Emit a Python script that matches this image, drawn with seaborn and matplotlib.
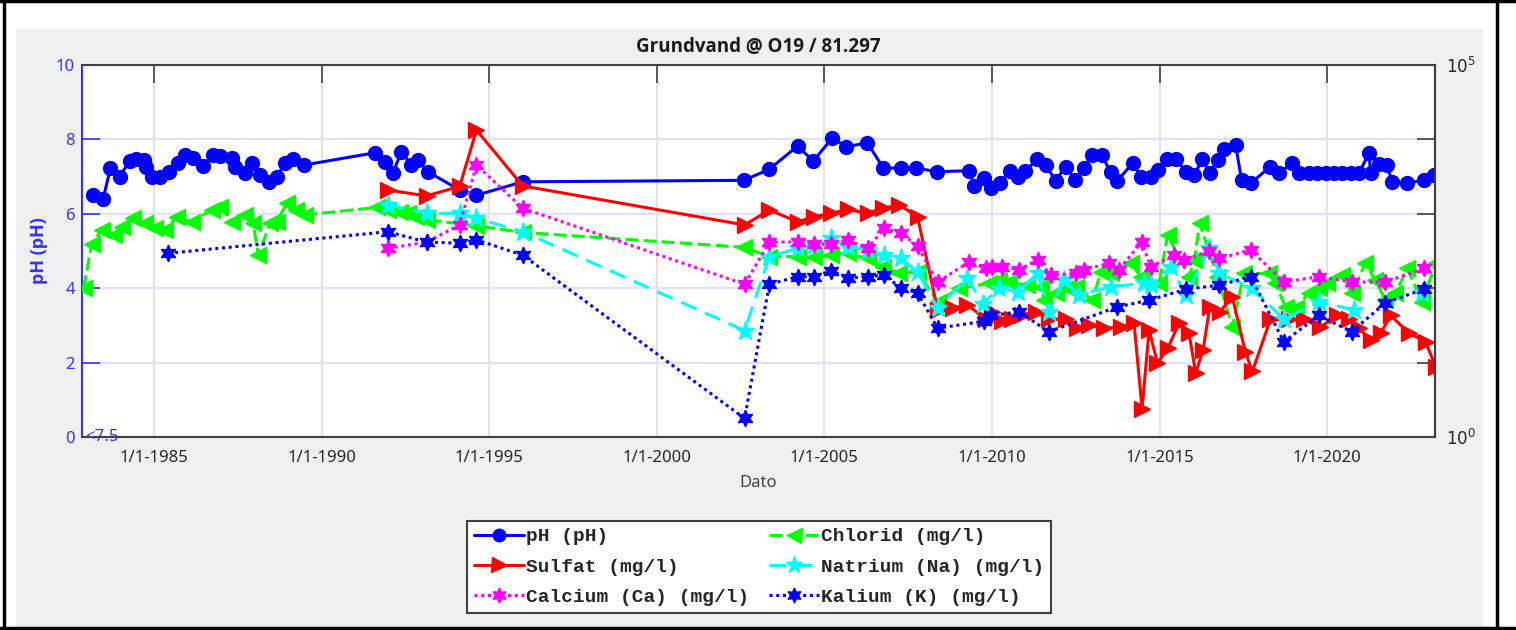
import pandas as pd
import seaborn as sns
import matplotlib.pyplot as plt
from matplotlib.patches import Rectangle
from matplotlib.lines import Line2D
from matplotlib.font_manager import FontProperties

# --- data (decimal year, value) ---
ph_year = [1983.17, 1983.48, 1983.70, 1983.97, 1984.28, 1984.46, 1984.70, 1984.76, 1984.93, 1985.18,
           1985.45, 1985.72, 1985.92, 1986.16, 1986.45, 1986.76, 1986.97, 1987.32, 1987.41, 1987.71,
           1987.91, 1988.16, 1988.43, 1988.67, 1988.90, 1989.14, 1989.47, 1991.59, 1991.89, 1992.13,
           1992.38, 1992.68, 1992.87, 1993.17, 1994.12, 1994.62, 1996.00, 2002.60, 2003.36, 2004.20,
           2004.67, 2005.24, 2005.66, 2006.28, 2006.76, 2007.30, 2007.74, 2008.37, 2009.32, 2009.47,
           2009.77, 2009.97, 2010.24, 2010.53, 2010.78, 2011.00, 2011.35, 2011.60, 2011.90, 2012.20,
           2012.48, 2012.75, 2012.98, 2013.27, 2013.54, 2013.74, 2014.21, 2014.44, 2014.74, 2014.96,
           2015.23, 2015.49, 2015.79, 2016.04, 2016.27, 2016.50, 2016.75, 2016.92, 2017.27, 2017.45,
           2017.72, 2018.31, 2018.56, 2018.96, 2019.16, 2019.46, 2019.71, 2019.96, 2020.21, 2020.45,
           2020.70, 2020.95, 2021.25, 2021.30, 2021.56, 2021.79, 2021.94, 2022.39, 2022.89, 2023.19]
ph_val = [6.50, 6.40, 7.23, 7.00, 7.43, 7.47, 7.45, 7.27, 7.00, 6.99,
          7.13, 7.36, 7.58, 7.50, 7.28, 7.58, 7.55, 7.50, 7.27, 7.10,
          7.36, 7.04, 6.86, 7.00, 7.36, 7.47, 7.31, 7.64, 7.40, 7.10,
          7.67, 7.31, 7.45, 7.13, 6.64, 6.50, 6.86, 6.90, 7.20, 7.82,
          7.42, 8.04, 7.80, 7.91, 7.23, 7.23, 7.23, 7.13, 7.16, 6.75,
          6.96, 6.69, 6.83, 7.16, 7.00, 7.16, 7.47, 7.31, 6.89, 7.27,
          6.91, 7.23, 7.58, 7.58, 7.13, 6.89, 7.37, 7.00, 7.00, 7.18,
          7.47, 7.47, 7.13, 7.04, 7.46, 7.11, 7.45, 7.73, 7.85, 6.91,
          6.82, 7.27, 7.09, 7.37, 7.09, 7.09, 7.09, 7.09, 7.09, 7.09,
          7.09, 7.09, 7.63, 7.09, 7.35, 7.31, 6.86, 6.82, 6.91, 7.04]

cl_year = [1982.90, 1983.14, 1983.44, 1983.79, 1984.04, 1984.38, 1984.73, 1985.03, 1985.33, 1985.68,
           1986.12, 1986.72, 1986.97, 1987.32, 1987.71, 1987.96, 1988.11, 1988.46, 1988.66, 1988.96,
           1989.25, 1989.50, 1991.64, 1991.97, 1992.33, 1992.58, 1992.83, 1993.13, 1994.62, 1996.00,
           2002.60, 2003.36, 2004.20, 2004.70, 2005.20, 2005.70, 2006.29, 2006.74, 2007.24, 2007.78,
           2008.38, 2009.03, 2009.92, 2010.22, 2010.52, 2011.06, 2011.46, 2011.56, 2011.90, 2012.25,
           2012.50, 2013.00, 2013.25, 2013.54, 2014.14, 2014.44, 2014.99, 2015.24, 2015.88, 2016.04,
           2016.20, 2016.73, 2017.17, 2017.52, 2018.26, 2018.46, 2018.76, 2019.06, 2019.45, 2019.75,
           2020.00, 2020.45, 2020.74, 2021.14, 2021.44, 2021.74, 2022.04, 2022.39, 2022.84, 2023.24]
cl_val = [100, 398, 603, 520, 668, 871, 750, 646, 603, 912,
          784, 1122, 1245, 784, 966, 741, 278, 741, 784, 1380,
          1122, 966, 1216, 1122, 1072, 1012, 912, 830, 690, 562,
          355, 266, 266, 260, 278, 295, 251, 195, 158, 166,
          66, 100, 116, 129, 121, 110, 105, 69, 85, 100,
          105, 69, 166, 158, 216, 143, 116, 519, 143, 240,
          741, 143, 30, 158, 158, 116, 56, 54, 85, 100,
          116, 150, 85, 216, 129, 69, 85, 184, 66, 216]

so4_year = [1991.98, 1993.13, 1994.12, 1994.62, 1996.00, 2002.62, 2003.36, 2004.20, 2004.70, 2005.20,
            2005.70, 2006.29, 2006.74, 2007.24, 2007.78, 2008.38, 2008.83, 2009.27, 2009.82, 2010.00,
            2010.31, 2010.61, 2010.91, 2011.30, 2011.70, 2012.20, 2012.55, 2012.90, 2013.35, 2013.84,
            2014.24, 2014.48, 2014.69, 2014.94, 2015.24, 2015.59, 2015.88, 2016.08, 2016.30, 2016.50,
            2016.80, 2017.17, 2017.56, 2017.77, 2018.31, 2018.86, 2019.31, 2019.80, 2020.30, 2020.65,
            2020.95, 2021.30, 2021.60, 2021.90, 2022.44, 2022.94, 2023.24]
so4_val = [2089, 1738, 2340, 13335, 2371, 708, 1122, 784, 912, 1012,
           1148, 1012, 1189, 1318, 912, 51, 54, 60, 38, 48,
           36, 38, 44, 48, 39, 38, 29, 32, 29, 30,
           34, 2.4, 27.5, 9.8, 15.5, 34, 25, 7.2, 14.8, 56,
           48, 77, 14, 7.6, 38, 38, 38, 30, 43, 38,
           29, 20, 25, 43, 25, 19, 8.8]

na_year = [1991.98, 1993.13, 1994.12, 1994.62, 1996.00, 2002.62, 2003.36, 2004.20, 2004.70, 2005.20,
           2005.70, 2006.29, 2006.79, 2007.29, 2007.78, 2008.38, 2009.27, 2009.72, 2010.22, 2010.77,
           2011.36, 2011.70, 2012.15, 2012.60, 2013.54, 2014.54, 2014.74, 2015.34, 2015.79, 2016.49,
           2016.79, 2017.77, 2018.71, 2019.75, 2020.80]
na_val = [1318, 1012, 1012, 871, 575, 27, 266, 343, 380, 468,
          363, 330, 278, 251, 166, 54, 136, 62, 100, 90,
          158, 48, 129, 81, 105, 116, 110, 195, 81, 343,
          158, 100, 38, 66, 51]
na_late_year = [2022.84]
na_late_val = [85]

ca_year = [1991.98, 1993.13, 1994.12, 1994.62, 1996.00, 2002.62, 2003.36, 2004.20, 2004.70, 2005.20,
           2005.70, 2006.29, 2006.79, 2007.29, 2007.78, 2008.38, 2009.32, 2009.82, 2010.00, 2010.31,
           2010.81, 2011.36, 2011.76, 2012.50, 2012.75, 2013.50, 2013.79, 2014.47, 2014.74, 2015.43,
           2015.73, 2016.49, 2016.79, 2017.72, 2018.71, 2019.75, 2020.74, 2021.74, 2022.89]
ca_val = [343, 417, 708, 4519, 1189, 113, 417, 417, 389, 389,
          447, 343, 638, 549, 367, 121, 226, 184, 195, 195,
          178, 240, 150, 158, 178, 216, 178, 417, 195, 278,
          240, 316, 251, 327, 121, 143, 121, 121, 184]

k_year = [1985.43, 1991.98, 1993.13, 1994.12, 1994.62, 1996.00, 2002.62, 2003.36, 2004.20, 2004.70,
          2005.20, 2005.70, 2006.29, 2006.79, 2007.29, 2007.78, 2008.38, 2009.77, 2009.97, 2010.81,
          2011.70, 2013.74, 2014.69, 2015.79, 2016.79, 2017.72, 2018.71, 2019.75, 2020.74, 2021.74,
          2022.89]
k_val = [295, 575, 417, 403, 447, 278, 1.78, 113, 143, 143,
         172, 136, 143, 150, 100, 87, 29, 36, 43, 48,
         26, 56, 69, 97, 110, 143, 19, 43, 26, 64,
         97]

tick_years = [1985, 1990, 1995, 2000, 2005, 2010, 2015, 2020]
tick_labels = [f"1/1-{y}" for y in tick_years]

BLUE_AX = '#3333ff'
DARK = '#404040'
HEX = (6, 1, 0)  # six point star, like matlab's hexagram


def draw(ax, years, vals, color, ls, marker, ms, label=None):
    df = pd.DataFrame({'year': years, 'val': vals})
    sns.lineplot(data=df, x='year', y='val', ax=ax, color=color, linestyle=ls, linewidth=2.2,
                 marker=marker, markersize=ms, markeredgecolor=color, markerfacecolor=color,
                 markeredgewidth=1, sort=False, estimator=None, legend=False, label=label)


sns.set_style('white')
plt.rcParams['font.family'] = ['Noto Sans', 'DejaVu Sans']
BOLD_FAM = ['Open Sans', 'DejaVu Sans']

fig = plt.figure(figsize=(15.16, 6.3), dpi=100)
W, H = 1516, 630

# grey matlab panel and the outer black frame
fig.add_artist(Rectangle((16 / W, 0), (1483 - 16) / W, (630 - 29) / H, transform=fig.transFigure,
                         facecolor='#f0f0f0', edgecolor='none', zorder=-2))
for xs, ys in [([4 / W, 4 / W], [0, 1]), ([1497 / W, 1497 / W], [0, 1]),
               ([0, 1], [1 - 1 / H, 1 - 1 / H]), ([0, 1], [1 - 628 / H, 1 - 628 / H])]:
    fig.add_artist(Line2D(xs, ys, transform=fig.transFigure, color='black', lw=2.5))

ax = fig.add_axes([82 / W, 1 - 437 / H, (1435 - 82) / W, (437 - 65) / H])
ax.set_facecolor('white')
ax2 = ax.twinx()
ax2.set_yscale('log')
ax2.set_ylim(1, 1e5)

# left axis: pH
draw(ax, ph_year, ph_val, '#0000ff', '-', 'o', 10, label='pH (pH)')

# right axis: concentrations
draw(ax2, cl_year, cl_val, '#00ff00', (0, (4.3, 1.6)), '<', 12, label='Chlorid (mg/l)')
draw(ax2, so4_year, so4_val, '#ff0000', '-', '>', 12, label='Sulfat (mg/l)')
draw(ax2, na_year, na_val, '#00ffff', (0, (5.5, 3)), '*', 14, label='Natrium (Na) (mg/l)')
draw(ax2, na_late_year, na_late_val, '#00ffff', (0, (5.5, 3)), '*', 14)
draw(ax2, ca_year, ca_val, '#ff00ff', (0, (1, 1.2)), HEX, 12, label='Calcium (Ca) (mg/l)')
draw(ax2, k_year, k_val, '#0000ff', (0, (1, 1.2)), HEX, 12, label='Kalium (K) (mg/l)')

ax.set_xlim(1982.85, 2023.22)
ax.set_ylim(0, 10)
ax.set_xticks(tick_years)
ax.set_xticklabels(tick_labels)
ax.set_yticks([0, 2, 4, 6, 8, 10])
ax.set_yticklabels(['0', '2', '4', '6', '8', '10'])
ax.tick_params(axis='x', direction='in', length=13, width=1.2, top=True, color=DARK,
               labelcolor='#262626', labelsize=12, pad=9)
ax.tick_params(axis='y', direction='in', length=13, width=1.2, color=BLUE_AX,
               labelcolor=BLUE_AX, labelsize=12, pad=5)
ax.grid(axis='x', color='#dedede', lw=1.2)
ax.grid(axis='y', color='#e0e0ff', lw=1.6)
ax.set_axisbelow(True)

ax2.set_yticks([1, 10, 100, 1e3, 1e4, 1e5])
ax2.set_yticklabels(['$10^0$', '', '', '', '', '$10^5$'])
ax2.minorticks_off()
ax2.tick_params(axis='y', direction='in', length=13, width=1.2, color=DARK,
                labelcolor='#262626', labelsize=12, pad=8)
ax2.set_ylabel('')
ax2.set_xlabel('')

for s in ['top', 'bottom', 'right']:
    ax.spines[s].set_color(DARK)
    ax.spines[s].set_linewidth(1.5)
ax.spines['left'].set_color(BLUE_AX)
ax.spines['left'].set_linewidth(1.5)
for s in ['top', 'bottom', 'left']:
    ax2.spines[s].set_visible(False)
ax2.spines['right'].set_color(DARK)
ax2.spines['right'].set_linewidth(1.5)

ax.set_title('Grundvand @ O19 / 81.297', fontsize=13.5, fontweight='bold', family=BOLD_FAM,
             color='#1a1a1a', pad=9)
ax.set_xlabel('Dato', fontsize=12, color='#404040', labelpad=7)
ax.set_ylabel('pH (pH)', fontsize=13, fontweight='bold', family=BOLD_FAM, color=BLUE_AX,
              labelpad=6)
ax.text(0.002, 0.0, '<7.5', transform=ax.transAxes, ha='left', va='center',
        fontsize=12, color=BLUE_AX)

# legend in matlab column order
h1, l1 = ax.get_legend_handles_labels()
h2, l2 = ax2.get_legend_handles_labels()
hmap = dict(zip(l1 + l2, h1 + h2))
order = ['pH (pH)', 'Sulfat (mg/l)', 'Calcium (Ca) (mg/l)',
         'Chlorid (mg/l)', 'Natrium (Na) (mg/l)', 'Kalium (K) (mg/l)']
leg = fig.legend([hmap[k] for k in order], order, loc='center',
                 bbox_to_anchor=(759 / W, 1 - 567 / H), ncol=2,
                 prop=FontProperties(family='Liberation Mono', weight='bold', size=14),
                 frameon=True, fancybox=False, edgecolor=DARK, framealpha=1,
                 handlelength=2.6, handletextpad=0.1, columnspacing=1.0,
                 borderpad=0.35, labelspacing=0.66, borderaxespad=0, markerscale=0.9)
leg.get_frame().set_linewidth(1.5)

fig.savefig('out.png', dpi=100, facecolor='white')
